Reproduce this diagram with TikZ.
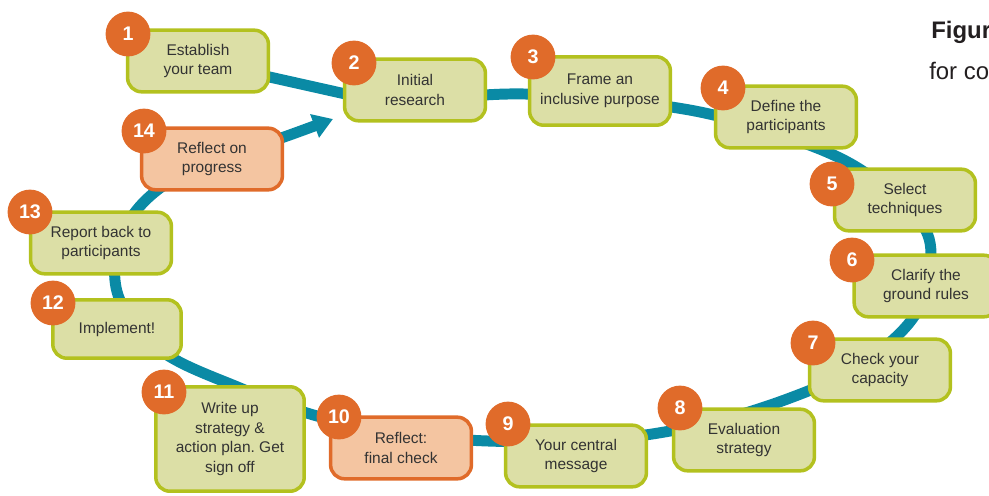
\documentclass[tikz,border=0pt]{standalone}
\usepackage{fontspec}
\setmainfont{Liberation Sans}
\usetikzlibrary{arrows.meta,backgrounds,calc}
\definecolor{loopteal}{HTML}{0A8AA5}
\definecolor{stepfill}{HTML}{DCDFA6}
\definecolor{stepline}{HTML}{B3C11F}
\definecolor{badgeorange}{HTML}{E06B2A}
\definecolor{reflectfill}{HTML}{F4C5A1}
\definecolor{stepgray}{HTML}{333333}
\definecolor{titleblack}{HTML}{231F20}
\frenchspacing
\tikzset{
  stepbox/.style={draw=stepline, fill=stepfill, line width=2.5pt, rounded corners=10pt,
    minimum width=3.52cm, minimum height=1.54cm, align=center, text=stepgray,
    font=\fontsize{11}{14}\selectfont, inner sep=2pt},
  reflectbox/.style={stepbox, draw=badgeorange, fill=reflectfill},
  badge/.style={circle, fill=badgeorange, minimum size=1.12cm, inner sep=0pt, text=white,
    font=\bfseries\fontsize{14}{14}\selectfont},
  loopline/.style={draw=loopteal, line width=7.8pt},
}
\begin{document}
\begin{tikzpicture}[x=0.025cm, y=-0.025cm, line join=round]
	\useasboundingbox (0,0) rectangle (989,495);
	\clip (0,0) rectangle (989,495);
	\node[anchor=base west, inner sep=0pt, text=titleblack, font=\bfseries\fontsize{17}{20}\selectfont] (title) at (931,38) {Figur};
	\node[anchor=base west, inner sep=0pt, text=titleblack, font=\fontsize{17}{20}\selectfont] (subtitle) at (929,79) {for co};
	\node[stepbox] (n1) at (198,61) {Establish\\your team};
	\node[stepbox] (n2) at (415,90) {Initial\\research};
	\node[stepbox, minimum height=1.71cm] (n3) at (600,91) {Frame an\\inclusive purpose};
	\node[stepbox] (n4) at (786,117) {Define the\\participants};
	\node[stepbox] (n5) at (905,200) {Select\\techniques};
	\node[stepbox, minimum width=3.59cm] (n6) at (926,286) {Clarify the\\ground rules};
	\node[stepbox] (n7) at (880,370) {Check your\\capacity};
	\node[stepbox] (n8) at (744,440) {Evaluation\\strategy};
	\node[stepbox] (n9) at (576,456) {Your central\\message};
	\node[reflectbox] (n10) at (401,448) {Reflect:\\final check};
	\node[stepbox, minimum width=3.71cm, minimum height=2.61cm] (n11) at (230,439) {Write up\\strategy \&\\action plan. Get\\sign off};
	\node[stepbox, minimum width=3.21cm, minimum height=1.46cm] (n12) at (117,329) {Implement!};
	\node[stepbox] (n13) at (101,243) {Report back to\\participants};
	\node[reflectbox] (n14) at (212,159) {Reflect on\\progress};
	\node[badge] (b1) at (128,34) {1};
	\node[badge] (b2) at (354,63) {2};
	\node[badge] (b3) at (533,57) {3};
	\node[badge] (b4) at (723,88) {4};
	\node[badge] (b5) at (832,184) {5};
	\node[badge] (b6) at (852,260) {6};
	\node[badge] (b7) at (813,343) {7};
	\node[badge] (b8) at (680,408) {8};
	\node[badge] (b9) at (508,424) {9};
	\node[badge] (b10) at (339,417) {10};
	\node[badge] (b11) at (164,392) {11};
	\node[badge] (b12) at (53,303) {12};
	\node[badge] (b13) at (30,212) {13};
	\node[badge] (b14) at (144,131) {14};
	\coordinate (tip) at (333,119);
	\begin{scope}[on background layer]
		\draw[loopline] (n1.center) -- ($(n2.center)!.6!(n2.south)$);
		\draw[loopline, -{Triangle[length=14pt, width=17pt]}] plot[smooth, tension=.6] coordinates {
			(400,102) (508,94) (600,99) (700,112) (790,138) (858,168) (915,215) (931,255)
			(915,315) (860,365) (790,398) (700,425) (600,440) (488,441) (400,433) (317,416)
			(240,388) (160,350) (118,295) (122,235) (160,188) (230,155) (284,137) (tip)};
	\end{scope}
\end{tikzpicture}
\end{document}
